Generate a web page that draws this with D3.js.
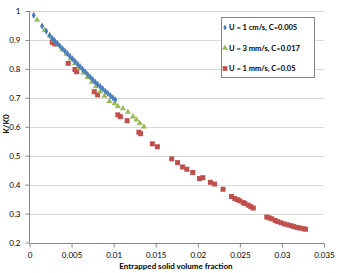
<!DOCTYPE html>
<html>
<head>
<meta charset="utf-8">
<script src="https://cdn.jsdelivr.net/npm/d3@7"></script>
<style>
  body { margin: 0; background: #fff; }
  text { font-family: Lato, "Liberation Sans", sans-serif; fill: #000; }
</style>
</head>
<body>
<svg id="chart" width="341" height="273"></svg>
<script>
// Data ==================================================================
var blueX = [0.0005,0.0015,0.0020,0.0024,0.0027,0.0030,0.0033,0.0036,0.0039,0.0042,0.0045,0.0048,0.0051,0.0054,0.0057,0.0060,0.0063,0.0066,0.0069,0.0072,0.0075,0.0078,0.0081,0.0084,0.0087,0.0090,0.0093,0.0096,0.0099,0.0102];
var blueY = [0.985,0.948,0.930,0.915,0.905,0.897,0.888,0.879,0.870,0.862,0.853,0.844,0.835,0.826,0.817,0.808,0.799,0.790,0.781,0.772,0.763,0.755,0.747,0.739,0.731,0.723,0.716,0.708,0.700,0.693];

var greenX = [0.0009,0.0018,0.0024,0.0029,0.0034,0.0039,0.0044,0.0049,0.0054,0.0059,0.0064,0.0069,0.0074,0.0079,0.0084,0.0089,0.0095,0.0101,0.0105,0.0111,0.0117,0.0123,0.0127,0.0131,0.0136];
var greenY = [0.969,0.934,0.915,0.899,0.883,0.867,0.851,0.835,0.819,0.803,0.787,0.771,0.755,0.739,0.722,0.706,0.688,0.680,0.671,0.663,0.651,0.635,0.624,0.612,0.600];

var redX = [0.0027,0.0030,0.0046,0.0054,0.0056,0.0077,0.0081,0.0105,0.0108,0.0116,0.0130,0.0132,0.0146,0.0152,0.0169,0.0176,0.0182,0.0187,0.0194,0.0202,0.0206,0.0215,0.0220,0.0230,0.0240,0.0244,0.0247,0.0250,0.0254,0.0256,0.0260,0.0263,0.0266,0.0282,0.0285,0.0288,0.0292,0.0295,0.0299,0.0303,0.0307,0.0311,0.0314,0.0318,0.0321,0.0325,0.0328];
var redY = [0.892,0.886,0.819,0.798,0.790,0.721,0.710,0.641,0.635,0.621,0.581,0.576,0.541,0.531,0.489,0.476,0.461,0.453,0.442,0.421,0.424,0.408,0.402,0.384,0.359,0.352,0.348,0.344,0.338,0.335,0.329,0.324,0.319,0.288,0.285,0.282,0.276,0.272,0.268,0.264,0.261,0.258,0.255,0.252,0.250,0.248,0.246];

var seriesNames = ["U = 1 cm/s, C=0.005", "U = 3 mm/s, C=0.017", "U = 1 mm/s, C=0.05"];
var xTicks = [0, 0.005, 0.01, 0.015, 0.02, 0.025, 0.03, 0.035];
var yTicks = [0.2, 0.3, 0.4, 0.5, 0.6, 0.7, 0.8, 0.9, 1];

// Layout ================================================================
var svg = d3.select("#chart");
var plotLeft = 29.5, plotRight = 324, plotTop = 11, plotBottom = 242.5;

var x = d3.scaleLinear().domain([0, 0.035]).range([plotLeft, plotRight]);
var y = d3.scaleLinear().domain([0.2, 1]).range([plotBottom, plotTop]);

// gridlines
svg.append("g")
	.selectAll("line")
	.data(yTicks.slice(1))
	.enter().append("line")
	.attr("x1", plotLeft).attr("x2", plotRight)
	.attr("y1", function (d) { return Math.round(y(d)) + 0.5; })
	.attr("y2", function (d) { return Math.round(y(d)) + 0.5; })
	.attr("stroke", "#d9d9d9")
	.attr("stroke-width", 1);

// axes
var xAxis = svg.append("g")
	.attr("transform", "translate(0," + (Math.round(plotBottom) + 0.5) + ")")
	.call(d3.axisBottom(x).tickValues(xTicks).tickSize(4).tickFormat(function (d) { return d === 0 ? "0" : String(d); }));
var yAxis = svg.append("g")
	.attr("transform", "translate(" + plotLeft + ",0)")
	.call(d3.axisLeft(y).tickValues(yTicks).tickSize(4).tickFormat(function (d) { return String(d); }));

[xAxis, yAxis].forEach(function (a) {
	a.select(".domain").attr("stroke", "#868686");
	a.selectAll(".tick line").attr("stroke", "#868686");
	a.selectAll(".tick text")
		.attr("font-family", "Lato, 'Liberation Sans', sans-serif")
		.attr("font-size", 8)
		.attr("fill", "#000");
});
xAxis.select(".domain").attr("d", "M" + plotLeft + ",0H" + plotRight);
yAxis.select(".domain").attr("d", "M0," + plotBottom + "V" + plotTop);
xAxis.selectAll(".tick text").attr("dy", "0.9em");
yAxis.selectAll(".tick text").attr("x", -9);

// axis titles
svg.append("text")
	.attr("x", 176).attr("y", 269)
	.attr("text-anchor", "middle")
	.attr("font-size", 8).attr("font-weight", "bold")
	.text("Entrapped solid volume fraction");

svg.append("text")
	.attr("transform", "translate(9,124) rotate(-90)")
	.attr("text-anchor", "middle")
	.attr("font-size", 8).attr("font-weight", "bold")
	.text("K/K0");

// marks
var red = d3.range(redX.length).map(function (i) { return [redX[i], redY[i]]; });
var green = d3.range(greenX.length).map(function (i) { return [greenX[i], greenY[i]]; });
var blue = d3.range(blueX.length).map(function (i) { return [blueX[i], blueY[i]]; });

svg.append("g").selectAll("rect")
	.data(red).enter().append("rect")
	.attr("x", function (d) { return x(d[0]) - 2.5; })
	.attr("y", function (d) { return y(d[1]) - 2.5; })
	.attr("width", 5).attr("height", 5)
	.attr("fill", "#C0504D");

var tri = d3.symbol().type(d3.symbolTriangle).size(16);
svg.append("g").selectAll("path")
	.data(green).enter().append("path")
	.attr("d", tri)
	.attr("transform", function (d) { return "translate(" + x(d[0]) + "," + y(d[1]) + ")"; })
	.attr("fill", "#9BBB59");

var dia = d3.symbol().type(d3.symbolDiamond).size(14);
svg.append("g").selectAll("path")
	.data(blue).enter().append("path")
	.attr("d", dia)
	.attr("transform", function (d) { return "translate(" + x(d[0]) + "," + y(d[1]) + ")"; })
	.attr("fill", "#4A7EBB");

// legend
var legend = svg.append("g");
legend.append("rect")
	.attr("x", 221.5).attr("y", 17.5)
	.attr("width", 93).attr("height", 60)
	.attr("fill", "#fff")
	.attr("stroke", "#868686");

var colors = ["#4A7EBB", "#9BBB59", "#C0504D"];
var shapes = [d3.symbolDiamond, d3.symbolTriangle, d3.symbolSquare];
var sizes = [10, 16, 22];
seriesNames.forEach(function (name, i) {
	var ly = 27.5 + i * 20.5;
	legend.append("path")
		.attr("d", d3.symbol().type(shapes[i]).size(sizes[i]))
		.attr("transform", "translate(225," + ly + ")")
		.attr("fill", colors[i]);
	legend.append("text")
		.attr("x", 229).attr("y", ly)
		.attr("dy", "0.35em")
		.attr("font-size", 7.5).attr("font-weight", "bold")
		.text(name);
});
</script>
</body>
</html>
